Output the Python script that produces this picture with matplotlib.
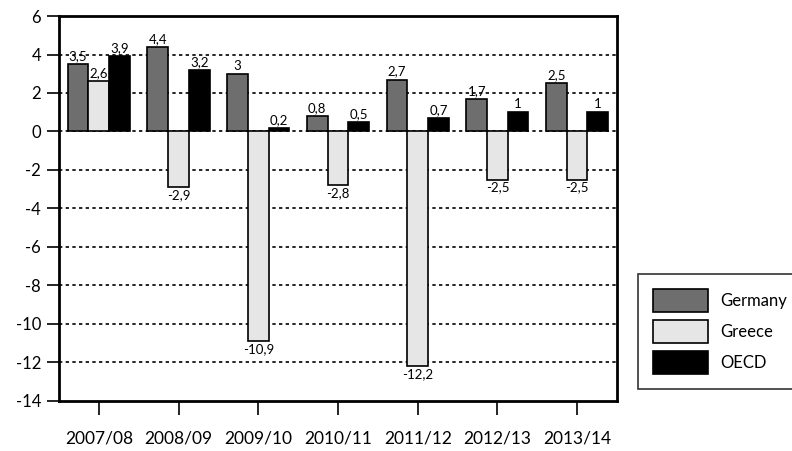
import numpy as np
import matplotlib.pyplot as plt

years = ['2007/08', '2008/09', '2009/10', '2010/11', '2011/12', '2012/13', '2013/14']
germany = [3.5, 4.4, 3.0, 0.8, 2.7, 1.7, 2.5]
greece = [2.6, -2.9, -10.9, -2.8, -12.2, -2.5, -2.5]
oecd = [3.9, 3.2, 0.2, 0.5, 0.7, 1.0, 1.0]

names = ['Germany', 'Greece', 'OECD']
colors = ['#6e6e6e', '#e6e6e6', '#000000']

plt.rcParams['font.family'] = ['Lato', 'DejaVu Sans']


def fmt(v):
    return f'{v:g}'.replace('.', ',')


fig = plt.figure(figsize=(7.92, 4.51), dpi=100)
ax = fig.add_axes([0.0745, 0.111, 0.7045, 0.8535])

x = np.arange(len(years))
w = 0.26
for i, (vals, name, c) in enumerate(zip([germany, greece, oecd], names, colors)):
    pos = x + (i - 1) * w
    ax.bar(pos, vals, w, color=c, edgecolor='black', linewidth=1.2, label=name, zorder=3)
    for p, v in zip(pos, vals):
        if v >= 0:
            ax.text(p, v + 0.1, fmt(v), ha='center', va='bottom', fontsize=9.5, zorder=4)
        else:
            ax.text(p, v - 0.1, fmt(v), ha='center', va='top', fontsize=9.5, zorder=4)

ax.set_ylim(-14, 6)
ax.set_xlim(-0.5, len(years) - 0.5)
ticks = list(range(-14, 7, 2))
ax.set_yticks(ticks)
ax.set_yticklabels([str(t) for t in ticks], fontsize=12)
ax.set_xticks(x)
ax.set_xticklabels(years, fontsize=12.5)
ax.tick_params(axis='x', direction='out', length=10, width=1.2, pad=11)
ax.tick_params(axis='y', direction='out', length=9, width=1.2, pad=4)

# dotted grid lines
for t in range(-12, 6, 2):
    ax.axhline(t, color='black', linestyle=(0, (2, 2)), linewidth=1.2, zorder=1)

for s in ax.spines.values():
    s.set_linewidth(2)
    s.set_color('black')

# legend box runs off the right edge like in the original
leg = ax.legend(loc='upper left', mode='expand',
                bbox_to_anchor=(638 / 792, 0, 170 / 792, 1 - 274 / 451),
                bbox_transform=fig.transFigure, frameon=True, fancybox=False,
                edgecolor='black', fontsize=12, handlelength=3.3, handleheight=1.7,
                borderpad=0.92, labelspacing=0.5, handletextpad=0.72, borderaxespad=0)
leg.get_frame().set_linewidth(1.2)

fig.savefig('out.png', dpi=100)
